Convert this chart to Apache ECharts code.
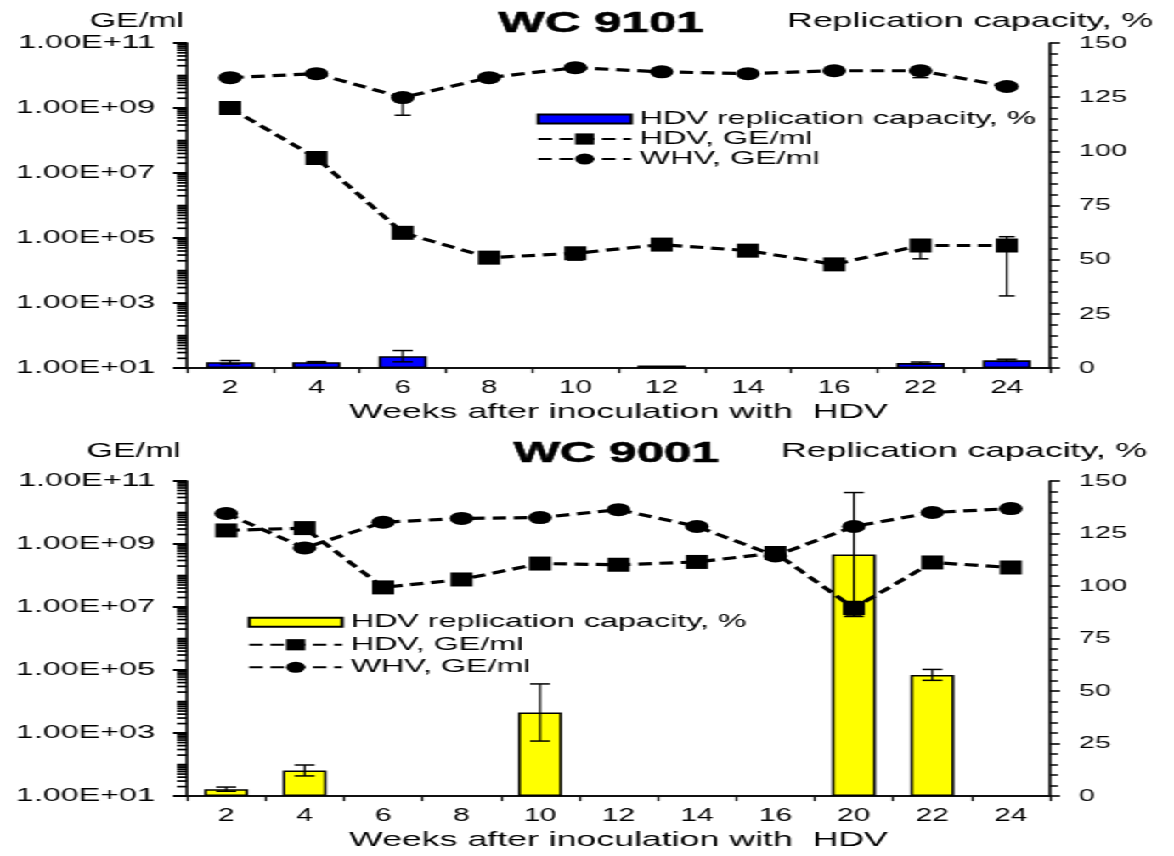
<!DOCTYPE html>
<html><head><meta charset="utf-8">
<script src="https://cdn.jsdelivr.net/npm/echarts@6/dist/echarts.min.js"></script>
<style>
html,body{margin:0;padding:0;background:#fff;overflow:hidden;width:1174px;height:856px;}
#wrap{position:absolute;left:0;top:0;width:691px;height:856px;transform-origin:0 0;}
#c1,#c2{position:absolute;left:0;width:691px;height:428px;}
#c1{top:0}#c2{top:428px}
</style></head><body>
<div id="wrap"><div id="c1"></div><div id="c2"></div></div>
<script>
// ---------------- DATA ----------------
const weeksTop = ['2','4','6','8','10','12','14','16','22','24'];
const hdvTop   = [1.0e9, 2.9e7, 1.45e5, 2.5e4, 3.4e4, 6.3e4, 4.1e4, 1.55e4, 5.9e4, 5.9e4];
const whvTop   = [8.6e9, 1.14e10, 2.1e9, 8.6e9, 1.74e10, 1.3e10, 1.14e10, 1.4e10, 1.4e10, 4.6e9];
const capTop   = [2.7, 2.7, 5.5, null, null, 1.2, null, null, 2.3, 3.6];
const capTopErr = [0.8, 0.3, 2.6, null, null, null, null, null, 0.5, 0.5];
const hdvTopLow  = [null, null, null, null, 2.1e4, null, null, null, 2.3e4, 1.66e3];
const hdvTopHigh = [null, null, null, null, 4.5e4, null, null, null, 8.9e4, 1.1e5];
const whvTopLow  = [null, null, 6.0e8, null, null, null, null, null, 8.6e9, null];
const whvTopHigh = [null, null, 2.6e9, null, null, null, null, null, 1.87e10, null];

const weeksBottom = ['2','4','6','8','10','12','14','16','20','22','24'];
const hdvBottom = [2.7e9, 3.2e9, 4.2e7, 7.5e7, 2.4e8, 2.2e8, 2.7e8, 5.2e8, 9.3e6, 2.6e8, 1.8e8];
const whvBottom = [9.3e9, 7.5e8, 4.9e9, 6.5e9, 6.9e9, 1.23e10, 3.6e9, 4.2e8, 3.6e9, 1.0e10, 1.33e10];
const capBottom = [3.3, 12.2, null, null, 39.8, null, null, null, 115, 57.7, null];
const capBottomErr = [1.0, 2.6, null, null, 13.6, null, null, null, 29.5, 2.6, null];
const hdvBottomLow  = [null, null, null, null, null, null, null, null, 5.2e6, null, null];
const hdvBottomHigh = [null, null, null, null, null, null, null, null, 1.5e7, null, null];
const whvBottomLow  = [null, null, null, null, null, null, null, null, null, null, null];
const whvBottomHigh = [null, null, null, null, null, null, null, null, null, null, null];

// ---------------- LAYOUT ----------------
const W = 691, S = 1174 / W;
document.getElementById('wrap').style.transform = 'scaleX(' + S + ')';
const X = v => v / S;
const FONT = "'Liberation Sans', Arial, Helvetica, sans-serif";
const lg = v => (v == null ? null : Math.log10(v));
const GRID_LEFT = X(187);

// logarithmic minor ticks (exponent space), skipping the labelled decades
const minorVals = [];
for (let d = 1; d <= 10; d++) for (let k = 1; k <= 9; k++) {
  if (!(k === 1 && d % 2 === 1)) minorVals.push(d + Math.log10(k));
}

function errData(center, low, high, isLog) {
  const out = [];
  center.forEach((c, i) => {
    if (low[i] == null || high[i] == null) return;
    out.push(isLog ? [i, lg(low[i]), lg(high[i])] : [i, low[i], high[i]]);
  });
  return out;
}
function barErr(vals, errs) {
  const out = [];
  vals.forEach((v, i) => { if (v != null && errs[i] != null) out.push([i, v - errs[i], v + errs[i]]); });
  return out;
}
function errSeries(yAxisIndex, data, half, z) {
  return {
    type: 'custom', yAxisIndex, data, z, silent: true,
    encode: { x: 0, y: [1, 2] },
    renderItem: (p, api) => {
      const a = api.coord([api.value(0), api.value(1)]);
      const b = api.coord([api.value(0), api.value(2)]);
      const st = { stroke: '#000', lineWidth: 1.5 };
      return { type: 'group', children: [
        { type: 'line', shape: { x1: a[0], y1: a[1], x2: b[0], y2: b[1] }, style: { stroke: '#000', lineWidth: 1.2 } },
        { type: 'line', shape: { x1: a[0] - half, y1: a[1], x2: a[0] + half, y2: a[1] }, style: st },
        { type: 'line', shape: { x1: b[0] - half, y1: b[1], x2: b[0] + half, y2: b[1] }, style: st }
      ]};
    }
  };
}

function makeOption(c) {
  const txt = { color: '#000', fontFamily: FONT };
  const lineStyle = { color: '#000', width: 3.2, type: [8, 4.5] };
  return {
    animation: false,
    grid: { left: GRID_LEFT, right: X(124), top: c.gridTop, height: c.gridH },
    xAxis: {
      type: 'category', data: c.weeks, boundaryGap: true,
      axisLine: { lineStyle: { color: '#111', width: 2 } },
      axisTick: { show: true, length: 5, lineStyle: { color: '#111', width: 1.3 } },
      axisLabel: Object.assign({ fontSize: 17.5, margin: 11 }, txt),
      splitLine: { show: false },
      name: 'Weeks after inoculation with  HDV', nameLocation: 'middle', nameGap: 31,
      nameTextStyle: Object.assign({ fontSize: 21 }, txt)
    },
    yAxis: [
      { type: 'value', position: 'left', min: 1, max: 11, interval: 2,
        axisLine: { show: true, lineStyle: { color: '#000', width: 1.6 } },
        axisTick: { show: true, length: X(14), lineStyle: { color: '#000', width: 2 } },
        axisLabel: Object.assign({ fontSize: 19, margin: X(32),
          formatter: v => '1.00E+' + String(v).padStart(2, '0') }, txt),
        splitLine: { show: false } },
      { type: 'value', position: 'right', min: 0, max: 150, interval: 25,
        axisLine: { show: true, lineStyle: { color: '#000', width: 1.6 } },
        axisTick: { show: true, length: X(10), lineStyle: { color: '#000', width: 1.6 } },
        minorTick: { show: true, splitNumber: 5, length: X(8), lineStyle: { color: '#000', width: 1.5 } },
        axisLabel: Object.assign({ fontSize: 17, margin: X(29) }, txt),
        splitLine: { show: false } }
    ],
    legend: [
      { data: [{ name: 'HDV replication capacity, %', icon: 'rect' }], orient: 'vertical',
        left: X(c.legX), top: c.legTop, itemWidth: X(93), itemHeight: 9, itemGap: 0, selectedMode: false,
        textStyle: Object.assign({ fontSize: 19, lineHeight: c.legRow }, txt) },
      { data: ['HDV, GE/ml', 'WHV, GE/ml'], orient: 'vertical',
        left: X(c.legX), top: c.legTop + c.legRow, itemWidth: X(93), itemHeight: 14, itemGap: 0, selectedMode: false,
        textStyle: Object.assign({ fontSize: 19, lineHeight: c.legRow }, txt) }
    ],
    graphic: [
      { type: 'text', x: X(c.geX), y: c.headY, style: { text: 'GE/ml', fill: '#000', font: '20px ' + FONT, align: 'right', verticalAlign: 'middle' } },
      { type: 'text', x: X(c.titleX), y: c.headY + 3, style: { text: c.title, fill: '#000', font: 'bold 29px ' + FONT, align: 'center', verticalAlign: 'middle', stroke: '#000', lineWidth: 0.6 } },
      { type: 'text', x: X(c.repX), y: c.headY, style: { text: 'Replication capacity, %', fill: '#000', font: '21px ' + FONT, align: 'left', verticalAlign: 'middle' } }
    ],
    series: [
      { name: 'HDV replication capacity, %', type: 'bar', yAxisIndex: 1, data: c.cap, barWidth: '56%',
        itemStyle: { color: c.barColor, borderColor: '#000', borderWidth: 1.6 }, z: 2 },
      errSeries(1, barErr(c.cap, c.capErr), X(10), 3),
      errSeries(0, errData(c.hdv, c.hdvLow, c.hdvHigh, true), X(8), 3),
      errSeries(0, errData(c.whv, c.whvLow, c.whvHigh, true), X(8), 3),
      { name: 'HDV, GE/ml', type: 'line', yAxisIndex: 0, data: c.hdv.map(lg),
        symbol: 'rect', symbolSize: [13, 14], lineStyle, itemStyle: { color: '#000' }, z: 5 },
      { name: 'WHV, GE/ml', type: 'line', yAxisIndex: 0, data: c.whv.map(lg),
        symbol: 'circle', symbolSize: [14, 13], lineStyle, itemStyle: { color: '#000' }, z: 5 }
    ]
  };
}

// logarithmic minor ticks on the left axis, positioned by the axis scale itself
function addLogMinorTicks(chart, opt) {
  const len = X(10);
  const ticks = minorVals.map(v => {
    const y = chart.convertToPixel({ yAxisIndex: 0 }, v);
    return { type: 'line', silent: true, z: 10,
      shape: { x1: GRID_LEFT - len, y1: y, x2: GRID_LEFT, y2: y },
      style: { stroke: '#000', lineWidth: 1.7 } };
  });
  chart.setOption({ graphic: opt.graphic.concat(ticks) });
}

const optTop = makeOption({
  weeks: weeksTop, hdv: hdvTop, whv: whvTop, cap: capTop, capErr: capTopErr,
  hdvLow: hdvTopLow, hdvHigh: hdvTopHigh, whvLow: whvTopLow, whvHigh: whvTopHigh,
  gridTop: 43, gridH: 329, barColor: '#0000ff', title: 'WC 9101',
  legX: 528, legTop: 104, legRow: 20, headY: 21, geX: 184, titleX: 601, repX: 787
});
const chartTop = echarts.init(document.getElementById('c1'), null, { renderer: 'canvas' });
chartTop.setOption(optTop);
addLogMinorTicks(chartTop, optTop);

const optBottom = makeOption({
  weeks: weeksBottom, hdv: hdvBottom, whv: whvBottom, cap: capBottom, capErr: capBottomErr,
  hdvLow: hdvBottomLow, hdvHigh: hdvBottomHigh, whvLow: whvBottomLow, whvHigh: whvBottomHigh,
  gridTop: 53, gridH: 320, barColor: '#ffff00', title: 'WC 9001',
  legX: 239, legTop: 178, legRow: 22.5, headY: 23, geX: 181, titleX: 616, repX: 781
});
const chartBottom = echarts.init(document.getElementById('c2'), null, { renderer: 'canvas' });
chartBottom.setOption(optBottom);
addLogMinorTicks(chartBottom, optBottom);
</script>
</body></html>
